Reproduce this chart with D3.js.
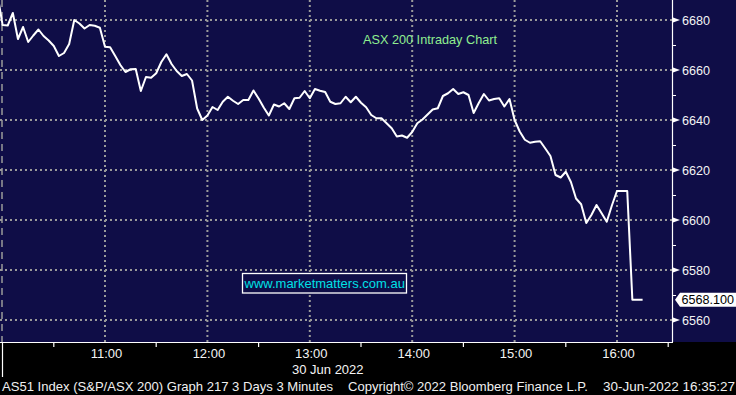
<!DOCTYPE html>
<html><head><meta charset="utf-8">
<script src="https://cdn.jsdelivr.net/npm/d3@7"></script>
<style>html,body{margin:0;padding:0;background:#000;}svg{display:block;}</style>
</head><body>
<svg id="c" width="736" height="395"></svg>
<script>
// ---- data ----
const title = "ASX 200 Intraday Chart";
const watermark = "www.marketmatters.com.au";
const startTime = "10:00";          // first 3-minute bar of the session
const stepMinutes = 3;
const prevClose = 6690;             // last bar of the prior session (shown at left edge)
const values = [
  6678.0,6677.8,6682.8,6672.4,6677.2,6671.2,6673.8,6676.2,6673.6,6671.8,
  6669.6,6665.6,6666.8,6670.4,6680.0,6678.6,6676.6,6678.0,6677.7,6676.9,
  6669.3,6669.1,6665.6,6662.0,6659.2,6660.3,6660.4,6651.6,6657.2,6656.9,
  6658.7,6663.2,6666.3,6662.4,6659.6,6657.6,6658.4,6655.8,6644.6,6640.0,
  6641.8,6645.2,6644.0,6647.3,6649.3,6647.7,6646.4,6648.0,6648.0,6651.8,
  6648.6,6645.0,6641.8,6646.2,6645.4,6646.7,6644.4,6648.7,6648.9,6651.6,
  6648.7,6652.4,6651.7,6651.2,6647.3,6646.4,6646.7,6649.3,6647.1,6649.3,
  6646.9,6645.1,6642.0,6640.7,6640.7,6638.7,6636.7,6633.4,6633.8,6632.9,
  6635.2,6638.7,6640.2,6642.2,6644.2,6644.7,6649.6,6650.7,6652.4,6650.4,
  6651.1,6650.0,6642.8,6646.8,6650.4,6647.8,6648.4,6648.7,6645.4,6648.4,
  6640.0,6635.4,6632.1,6630.9,6631.3,6631.5,6628.6,6625.6,6618.0,6617.0,
  6619.3,6615.2,6608.6,6606.3,6598.8,6602.0,6606.0,6602.7,6599.3,6605.8,
  6611.6,6611.6,6611.6,6568.1,6568.1,6568.1
];
const lastPrice = 6568.1;
const xTickLabels = ["11:00","12:00","13:00","14:00","15:00","16:00"];
const yTickValues = [6560,6580,6600,6620,6640,6660,6680];
const yMinorValues = [6570,6590,6610,6630,6650,6670];
const dateLabel = "30 Jun 2022";
const footerParts = [
  "AS51 Index (S&P/ASX 200) Graph 217 3 Days 3 Minutes",
  "Copyright\u00A9 2022 Bloomberg Finance L.P.",
  "30-Jun-2022 16:35:27"
];

// ---- layout ----
const W = 736, H = 395;
const plotL = 0, plotR = 672, plotT = 0, plotB = 342;
const navy = "#0f0d47";
const font = "'Liberation Sans', Arial, sans-serif";

const parse = d3.timeParse("%Y-%m-%d %H:%M");
const day = "2022-06-30 ";
const t0 = parse(day + startTime);
const times = values.map((v, i) => d3.timeMinute.offset(t0, i * stepMinutes));
const series = [{t: d3.timeMinute.offset(t0, -stepMinutes), v: prevClose}]
  .concat(values.map((v, i) => ({t: times[i], v})));

const x = d3.scaleTime()
  .domain([parse(day + "10:00"), parse(day + "16:00")])
  .range([2.6, 617]);
const y = d3.scaleLinear().domain([6560, 6680]).range([320, 20]);

const svg = d3.select("#c");
svg.append("rect").attr("width", W).attr("height", H).attr("fill", "#000");
svg.append("rect").attr("x", 0).attr("y", 0).attr("width", W).attr("height", plotB).attr("fill", navy);

svg.append("defs").append("clipPath").attr("id", "clip")
  .append("rect").attr("x", plotL).attr("y", plotT).attr("width", plotR - plotL).attr("height", plotB - plotT);

const grid = svg.append("g");
const gridColor = "#9a9a9a";
// horizontal grid
grid.selectAll("line.h").data(yTickValues).join("line")
  .attr("x1", plotL).attr("x2", plotR)
  .attr("y1", d => y(d)).attr("y2", d => y(d))
  .attr("stroke", gridColor).attr("stroke-width", 2).attr("stroke-dasharray", "2,3");
// vertical grid at hours
const hourTimes = xTickLabels.map(s => parse(day + s));
grid.selectAll("line.v").data(hourTimes).join("line")
  .attr("x1", d => x(d)).attr("x2", d => x(d))
  .attr("y1", plotT).attr("y2", plotB)
  .attr("stroke", gridColor).attr("stroke-width", 2).attr("stroke-dasharray", "2,3");
// session boundary (dashed)
grid.append("line")
  .attr("x1", x(t0) - 0.6).attr("x2", x(t0) - 0.6).attr("y1", plotT).attr("y2", plotB)
  .attr("stroke", gridColor).attr("stroke-width", 1.5).attr("stroke-dasharray", "7,5");

// price line
const line = d3.line().x(d => x(d.t)).y(d => y(d.v));
svg.append("path").datum(series)
  .attr("clip-path", "url(#clip)")
  .attr("d", line).attr("fill", "none")
  .attr("stroke", "#ffffff").attr("stroke-width", 2).attr("stroke-linejoin", "round");

// axes lines
svg.append("line").attr("x1", plotR + 0.5).attr("x2", plotR + 0.5).attr("y1", 0).attr("y2", plotB)
  .attr("stroke", "#fff").attr("stroke-width", 1.2);
svg.append("line").attr("x1", 0).attr("x2", plotR + 1).attr("y1", plotB + 0.5).attr("y2", plotB + 0.5)
  .attr("stroke", "#fff").attr("stroke-width", 1.2);
// session boundary tick below axis
svg.append("line").attr("x1", 2.5).attr("x2", 2.5).attr("y1", plotB).attr("y2", 377)
  .attr("stroke", "#fff").attr("stroke-width", 1.2);

// bottom half-hour ticks
const halfTimes = d3.timeMinute.every(30).range(parse(day + "10:30"), parse(day + "16:31"))
  .filter(d => d.getMinutes() === 30);
svg.selectAll("line.bt").data(halfTimes).join("line")
  .attr("x1", d => x(d)).attr("x2", d => x(d))
  .attr("y1", plotB).attr("y2", plotB + 5)
  .attr("stroke", "#fff").attr("stroke-width", 1.2);

// bottom labels
svg.selectAll("text.xl").data(xTickLabels).join("text")
  .attr("x", d => x(parse(day + d)) + 1.5).attr("y", 358)
  .attr("text-anchor", "middle").attr("fill", "#f4f4f4")
  .attr("font-family", font).attr("font-size", 13).text(d => d);
svg.append("text").attr("x", 292).attr("y", 374).attr("fill", "#f4f4f4")
  .attr("font-family", font).attr("font-size", 13).text(dateLabel);

// right axis ticks
svg.selectAll("path.yt").data(yTickValues).join("path")
  .attr("d", d => `M${plotR + 1},${y(d) - 2.5}L${plotR + 8},${y(d)}L${plotR + 1},${y(d) + 2.5}Z`)
  .attr("fill", "#fff");
svg.selectAll("line.ym").data(yMinorValues).join("line")
  .attr("x1", plotR).attr("x2", plotR + 4)
  .attr("y1", d => y(d) + 0.5).attr("y2", d => y(d) + 0.5)
  .attr("stroke", "#fff").attr("stroke-width", 1);
svg.selectAll("text.yl").data(yTickValues).join("text")
  .attr("x", 682).attr("y", d => y(d) + 4.5)
  .attr("fill", "#f4f4f4").attr("font-family", font).attr("font-size", 12.6)
  .text(d => d);

// last price tag
const py = y(lastPrice);
svg.append("path")
  .attr("d", `M${plotR + 3},${py}L${plotR + 8},${py - 7}L${W},${py - 7}L${W},${py + 7}L${plotR + 8},${py + 7}Z`)
  .attr("fill", "#fff");
svg.append("text").attr("x", 681.5).attr("y", py + 4.5)
  .attr("fill", "#000").attr("font-family", font).attr("font-size", 12.6)
  .text(d3.format(".3f")(lastPrice));

// title
svg.append("text").attr("x", 363).attr("y", 44)
  .attr("fill", "#90ee90").attr("font-family", font).attr("font-size", 12.7).text(title);

// watermark
svg.append("rect").attr("x", 242.5).attr("y", 273.5).attr("width", 164).attr("height", 19.5)
  .attr("fill", navy).attr("stroke", "#fff").attr("stroke-width", 1.3);
svg.append("text").attr("x", 244.5).attr("y", 288)
  .attr("fill", "#00e0e6").attr("font-family", font).attr("font-size", 13).text(watermark);

// footer
const footerPos = [[2, 331], [348, 240], [603, 132]];
svg.selectAll("text.ft").data(footerParts).join("text")
  .attr("x", (d, i) => footerPos[i][0]).attr("y", 391)
  .attr("textLength", (d, i) => footerPos[i][1]).attr("lengthAdjust", "spacingAndGlyphs")
  .attr("fill", "#f0f0f0").attr("font-family", font).attr("font-size", 13)
  .text(d => d);
</script>
</body></html>
